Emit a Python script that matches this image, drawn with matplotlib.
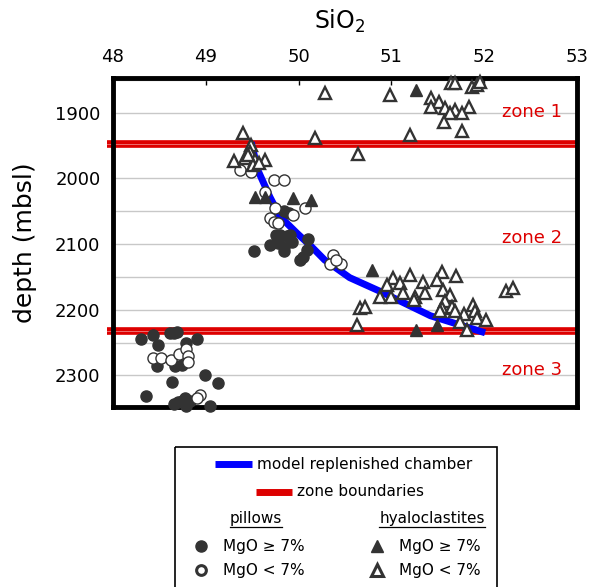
import matplotlib.pyplot as plt

# SiO2 (wt%) and depth (mbsl) for each sample group
pillow_hi_sio2 = [49.52, 49.69, 49.76, 49.80, 49.87, 49.84, 49.78, 49.84, 49.91, 49.93,
                  50.10, 50.09, 50.05, 50.02, 49.84, 49.90,
                  48.30, 48.43, 48.48, 48.61, 48.69, 48.66, 48.79, 48.90, 48.47, 48.67,
                  48.74, 48.64, 48.99, 49.13, 48.36, 48.66, 48.74, 48.79, 48.83, 49.05,
                  48.70, 48.78]
pillow_hi_depth = [2110, 2101, 2086, 2086, 2088, 2104, 2099, 2111, 2086, 2096,
                   2092, 2109, 2119, 2124, 2049, 2052,
                   2244, 2239, 2253, 2235, 2234, 2236, 2250, 2245, 2286, 2286,
                   2284, 2310, 2299, 2312, 2331, 2344, 2339, 2346, 2339, 2347,
                   2341, 2335]

pillow_lo_sio2 = [49.37, 49.49, 49.74, 49.84, 49.64, 49.75, 49.94, 50.07, 49.69, 49.73,
                  49.78, 50.37, 50.34, 50.46, 50.40,
                  48.43, 48.52, 48.63, 48.71, 48.79, 48.81, 48.81, 48.94, 48.91]
pillow_lo_depth = [1987, 1990, 2002, 2002, 2020, 2045, 2056, 2045, 2060, 2066,
                   2068, 2116, 2131, 2131, 2124,
                   2273, 2273, 2277, 2267, 2260, 2271, 2280, 2329, 2334]

hyalo_hi_sio2 = [51.27, 49.53, 49.64, 49.94, 50.13, 50.79, 51.27, 51.49]
hyalo_hi_depth = [1866, 2028, 2028, 2030, 2033, 2139, 2230, 2223]

hyalo_lo_sio2 = [50.28, 50.98, 51.43, 51.51, 51.43, 51.58, 51.69, 51.84, 51.76, 51.63,
                 51.57, 51.76, 51.20, 50.18, 50.64, 51.64, 51.69, 51.87, 51.92, 51.95,
                 49.40,
                 49.49, 49.48, 49.30, 49.42, 49.53, 49.64, 49.51, 49.57, 49.46,
                 51.02, 51.20, 50.95, 51.09, 51.34, 51.54, 51.49, 51.70, 51.13, 50.88,
                 51.00, 51.25, 51.36, 51.56, 51.24, 51.63, 51.58, 51.54, 51.52, 51.65,
                 51.78, 51.88, 51.90, 51.92, 52.02, 51.74, 51.81, 51.69, 50.66, 50.72,
                 50.63, 52.23, 52.31]
hyalo_lo_depth = [1870, 1873, 1878, 1883, 1891, 1893, 1895, 1891, 1900, 1901,
                  1914, 1927, 1934, 1938, 1963, 1854, 1855, 1860, 1858, 1853,
                  1930,
                  1949, 1959, 1974, 1969, 1972, 1972, 1979, 1977, 1964,
                  2152, 2147, 2162, 2159, 2157, 2142, 2154, 2149, 2175, 2180,
                  2180, 2180, 2175, 2170, 2185, 2177, 2187, 2197, 2202, 2195,
                  2207, 2192, 2202, 2212, 2215, 2218, 2230, 2202, 2197, 2195,
                  2223, 2172, 2167]

# replenished chamber model
model_sio2 = [49.49, 49.56, 49.69, 49.80, 49.98, 50.14, 50.28, 50.55, 50.88, 51.42, 52.01]
model_depth = [1945, 1987, 2028, 2058, 2083, 2104, 2124, 2151, 2172, 2209, 2235]

zone_bounds = [1948, 2232]
zone_names = ["zone 1", "zone 2", "zone 3"]
zone_label_depth = [1899, 2090, 2291]

x_ticks = [48, 49, 50, 51, 52, 53]
y_ticks = [1900, 2000, 2100, 2200, 2300]

dark = "#333333"
red = "#dd0000"
blue = "#0000ff"

fig = plt.figure(figsize=(5.91, 5.87), dpi=100)
ax = fig.add_axes([113 / 591, 1 - 407 / 587, 464 / 591, 329 / 587])

ax.set_xlim(48, 53)
ax.set_ylim(2348, 1847)
ax.set_xticks(x_ticks)
ax.set_yticks(y_ticks)
ax.set_yticks(range(1850, 2350, 50), minor=True)
ax.xaxis.tick_top()
ax.tick_params(axis="x", direction="in", length=5, width=1, pad=9, labelsize=13)
ax.tick_params(axis="y", length=0, pad=9, labelsize=13)
ax.tick_params(axis="y", which="minor", length=0)
ax.grid(axis="y", which="both", color="#c8c8c8", lw=1, zorder=0)
ax.set_axisbelow(True)
for s in ax.spines.values():
    s.set_linewidth(3.5)

# zone boundaries and model curve
for d in zone_bounds:
    ax.plot([47.94, 53.0], [d, d], color=red, lw=5.5, solid_capstyle="butt", clip_on=False, zorder=2)
    ax.plot([47.94, 53.0], [d, d], color="#f08080", lw=0.6, clip_on=False, zorder=2)
ax.plot(model_sio2, model_depth, color=blue, lw=5, solid_capstyle="butt", zorder=2)

# samples sit on top of the frame where they touch it
ax.plot(pillow_hi_sio2, pillow_hi_depth, "o", ms=8, color=dark, mec=dark, zorder=3, clip_on=False)
ax.plot(pillow_lo_sio2, pillow_lo_depth, "o", ms=8, mfc="white", mec=dark, mew=1.0, zorder=4, clip_on=False)
ax.plot(hyalo_hi_sio2, hyalo_hi_depth, "^", ms=8.5, color=dark, mec=dark, zorder=5, clip_on=False)
ax.plot(hyalo_lo_sio2, hyalo_lo_depth, "^", ms=8, mfc="white", mec=dark, mew=1.7, zorder=5, clip_on=False)

for name, d in zip(zone_names, zone_label_depth):
    ax.text(52.84, d, name, color=red, fontsize=13, ha="right", va="center", zorder=6)

fig.text(340 / 591, 1 - 21 / 587, "SiO$_2$", fontsize=17, ha="center", va="center")
fig.text(25 / 591, 1 - 243 / 587, "depth (mbsl)", fontsize=18, rotation=90, ha="center", va="center")

# legend panel in pixel coordinates
lax = fig.add_axes([0, 0, 1, 1])
lax.set_xlim(0, 591)
lax.set_ylim(587, 0)
lax.axis("off")
lax.add_patch(plt.Rectangle((175, 447), 322, 160, fill=False, ec="black", lw=1.2))
lax.plot([215, 252], [464, 464], color=blue, lw=5, solid_capstyle="butt")
lax.text(257, 464, "model replenished chamber", fontsize=11, va="center")
lax.plot([256, 292], [492, 492], color=red, lw=5, solid_capstyle="butt")
lax.text(297, 492, "zone boundaries", fontsize=11, va="center")
heads = [lax.text(256, 518, "pillows", fontsize=11, ha="center", va="center"),
         lax.text(432, 518, "hyaloclastites", fontsize=11, ha="center", va="center")]
lax.plot([201], [546], "o", ms=8, color=dark)
lax.plot([201], [570], "o", ms=7, mfc="white", mec=dark, mew=2.2)
lax.plot([377], [546], "^", ms=9, color=dark)
lax.plot([377], [570], "^", ms=8, mfc="white", mec=dark, mew=2.2)
lax.text(223, 546, "MgO ≥ 7%", fontsize=11, va="center")
lax.text(223, 570, "MgO < 7%", fontsize=11, va="center")
lax.text(399, 546, "MgO ≥ 7%", fontsize=11, va="center")
lax.text(399, 570, "MgO < 7%", fontsize=11, va="center")

# underline the column headings
fig.canvas.draw()
renderer = fig.canvas.get_renderer()
inv = lax.transData.inverted()
for t in heads:
    bb = t.get_window_extent(renderer)
    (x0, y0), (x1, _) = inv.transform([(bb.x0, bb.y0), (bb.x1, bb.y0)])
    lax.plot([x0, x1], [y0 + 1, y0 + 1], color="black", lw=0.9)

fig.savefig("out.png", dpi=100)
